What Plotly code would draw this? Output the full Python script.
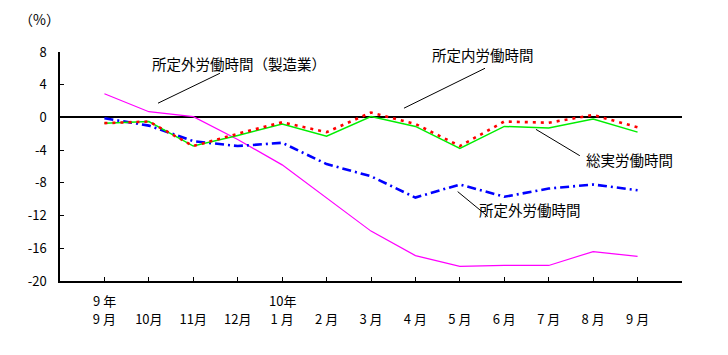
import plotly.graph_objects as go

# ---- data ----
positions = list(range(13))
year_row = ["9 年", "", "", "", "10年", "", "", "", "", "", "", "", ""]
month_row = ["9 月", "10月", "11月", "12月", "1 月", "2 月", "3 月", "4 月",
             "5 月", "6 月", "7 月", "8 月", "9 月"]

sojitsu = [-0.7, -0.5, -3.5, -2.2, -0.8, -2.3, 0.1, -1.1, -3.8, -1.1, -1.3, -0.2, -1.8]      # 総実労働時間
shoteinai = [-0.7, -0.5, -3.5, -2.0, -0.6, -1.8, 0.6, -0.8, -3.5, -0.5, -0.65, 0.3, -1.2]   # 所定内労働時間
shoteigai = [-0.1, -1.0, -2.9, -3.5, -3.1, -5.7, -7.2, -9.8, -8.2, -9.7, -8.7, -8.2, -8.9]  # 所定外労働時間
shoteigai_mfg = [2.9, 0.7, 0.1, -2.7, -5.8, -9.8, -13.9, -16.9, -18.2, -18.1, -18.1, -16.4, -17.0]  # 所定外労働時間（製造業）

y_tickvals = [8, 4, 0, -4, -8, -12, -16, -20]
y_ticktext = ["8", "4", "0", "-4", "-8", "-12", "-16", "-20"]

FONT = "Noto Sans CJK JP"

x_tickvals = positions + [13]
x_ticktext = month_row + [""]

fig = go.Figure()
fig.add_trace(go.Scatter(x=positions, y=shoteigai_mfg, mode="lines",
                         line=dict(color="#FF00FF", width=1.2), name="所定外労働時間（製造業）"))
fig.add_trace(go.Scatter(x=positions, y=shoteigai, mode="lines",
                         line=dict(color="#0000FF", width=2.6, dash="9px,4px,2px,4px"), name="所定外労働時間"))
fig.add_trace(go.Scatter(x=positions, y=sojitsu, mode="lines",
                         line=dict(color="#00EE00", width=1.5), name="総実労働時間"))
fig.add_trace(go.Scatter(x=positions, y=shoteinai, mode="lines",
                         line=dict(color="#FF0000", width=2.6, dash="3px,5px"), name="所定内労働時間"))

# leader lines & labels (data coordinates)
leaders = [
    ((2.60, 5.40), (1.206, 1.74)),
    ((8.566, 6.01), (6.742, 1.13)),
    ((10.70, -4.68), (9.713, -1.46)),
    ((8.633, -12.12), (7.951, -9.07)),
]
for (x0, y0), (x1, y1) in leaders:
    fig.add_shape(type="line", x0=x0, y0=y0, x1=x1, y1=y1, xref="x", yref="y",
                  line=dict(color="black", width=1))

labels = [
    ("所定外労働時間（製造業）", 3.03, 6.62),
    ("所定内労働時間", 8.527, 7.72),
    ("総実労働時間", 11.81, -5.09),
    ("所定外労働時間", 9.578, -11.30),
]
for t, x, y in labels:
    fig.add_annotation(text=t, x=x, y=y, xref="x", yref="y", showarrow=False,
                       xanchor="center", yanchor="middle",
                       font=dict(family=FONT, size=14.5, color="black"))

# year row under the month tick labels
for pos, yr in zip(positions, year_row):
    if yr:
        fig.add_annotation(text=yr, x=pos, y=-0.0859, xref="x", yref="paper",
                           showarrow=False, xanchor="center", yanchor="middle",
                           font=dict(family=FONT, size=13, color="black"))

fig.add_annotation(text="（%）", x=-0.033, y=1.1426, xref="paper", yref="paper",
                   showarrow=False, xanchor="center", yanchor="middle",
                   font=dict(family=FONT, size=14, color="black"))

# page body has an 8px default margin -> figure is 720x347 at offset (8, 8)
fig.update_layout(
    width=720, height=347,
    margin=dict(l=52, r=46, t=44, b=74),
    plot_bgcolor="white", paper_bgcolor="white",
    showlegend=False,
    font=dict(family=FONT, size=13, color="black"),
)
fig.update_xaxes(range=[-1, 13], tickvals=x_tickvals, ticktext=x_ticktext,
                 ticks="inside", ticklen=4, tickcolor="black", tickwidth=1,
                 showline=True, linecolor="black", linewidth=1.5,
                 showgrid=False, zeroline=False, tickangle=0,
                 ticklabelstandoff=26)
fig.update_yaxes(range=[-20, 8], tickvals=y_tickvals, ticktext=y_ticktext,
                 ticks="inside", ticklen=4, tickcolor="black", tickwidth=1,
                 showline=True, linecolor="black", linewidth=1.5,
                 showgrid=False, zeroline=True, zerolinecolor="black", zerolinewidth=1.5,
                 ticklabelstandoff=9)

fig.write_html("out.html")
